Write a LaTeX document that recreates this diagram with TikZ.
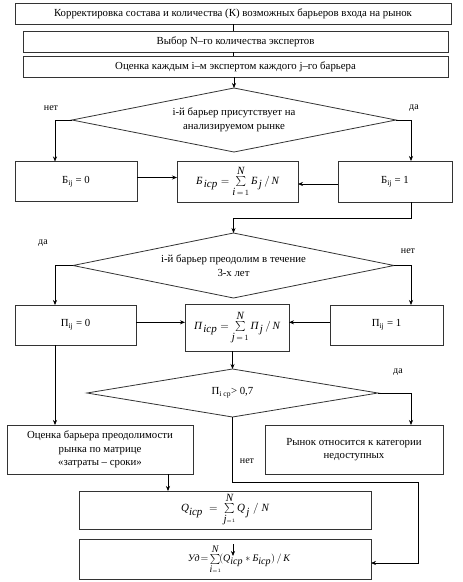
\documentclass[tikz,border=0pt]{standalone}
\usepackage{fontspec}
\setmainfont{Liberation Serif}
\usetikzlibrary{positioning,arrows.meta,shapes.geometric}
\tikzset{
  box/.style={draw=black!80,line width=0.9pt,align=center,font=\fontsize{10.8}{13.5}\selectfont,inner sep=2pt,outer sep=0pt},
  cond/.style={diamond,draw=black!80,line width=0.8pt,align=center,font=\fontsize{10.8}{13.5}\selectfont,inner sep=0pt,outer sep=0pt,aspect=5},
  lbl/.style={font=\fontsize{10}{12}\selectfont,inner sep=0pt},
  frm/.style={font=\fontsize{11}{13}\selectfont},
  arr/.style={-{Stealth[length=5pt,width=4pt]},line width=0.6pt},
  ln/.style={line width=0.6pt}
}

\begin{document}
\begin{tikzpicture}[node distance=7pt]
  \useasboundingbox (0,0) rectangle (463pt,-582pt);
  \node[box,minimum width=436pt,minimum height=21pt] (korr) at (233pt,-13.5pt) {Корректировка состава и количества (К) возможных барьеров входа на рынок};
  \node[box,minimum width=425pt,minimum height=21pt,below=7pt of korr,xshift=2.5pt] (vybor) {Выбор N–го количества экспертов};
  \node[box,minimum width=425pt,minimum height=21pt,below=4pt of vybor] (ocen) {Оценка каждым i–м экспертом каждого j–го барьера};
  \node[cond,minimum width=324pt,minimum height=64pt,below=11pt of ocen,xshift=-1.5pt] (pres) {i-й барьер присутствует на\\анализируемом рынке};
  \node[box,frm,minimum width=121pt,minimum height=41pt,below=9pt of pres,xshift=3.5pt] (bsr) {$\textit{Б}_{\,\textit{iср}} = \sum\limits_{\textit{i}\,=\,1}^{\textit{N}} \textit{Б}_{\,\textit{j}} \,/\, \textit{N}$};
  \node[box,minimum width=122pt,minimum height=40pt,left=40pt of bsr] (b0) {Б\textsubscript{ij} = 0};
  \node[box,minimum width=114pt,minimum height=41pt,right=40pt of bsr] (b1) {Б\textsubscript{ij} = 1};
  \node[cond,minimum width=321pt,minimum height=65pt,below=31pt of bsr,xshift=-4pt] (preod) {i-й барьер преодолим в течение\\3-х лет};
  \node[box,frm,minimum width=104pt,minimum height=47pt,below=6pt of preod,xshift=3.5pt] (psr) {$\textit{П}_{\,\textit{iср}} = \sum\limits_{\textit{j}\,=\,1}^{\textit{N}} \textit{П}_{\,\textit{j}} \,/\, \textit{N}$};
  \node[box,minimum width=121pt,minimum height=40pt,left=49pt of psr,yshift=2.5pt] (p0) {П\textsubscript{ij} = 0};
  \node[box,minimum width=113pt,minimum height=40pt,right=41pt of psr,yshift=2.5pt] (p1) {П\textsubscript{ij} = 1};
  \node[cond,aspect=6,minimum width=291pt,minimum height=48pt,below=18pt of psr,xshift=-4.5pt] (porog) {П\textsubscript{i ср}> 0,7};
  \node[box,minimum width=186pt,minimum height=49pt,below=8pt of porog,xshift=-132.5pt] (matr) {Оценка барьера преодолимости\\рынка по матрице\\«затраты – сроки»};
  \node[box,minimum width=178pt,minimum height=49pt,below=8pt of porog,xshift=121.5pt] (nedost) {Рынок относится к категории\\недоступных};
  \node[box,frm,minimum width=292pt,minimum height=38pt,below=17pt of matr,xshift=125pt] (qsr) {$\textit{Q}_{\scriptscriptstyle\textit{iср}} \;=\; \sum\limits_{\scriptscriptstyle\textit{j}=1}^{\scriptscriptstyle\textit{N}} \textit{Q}_{\,\scriptscriptstyle\textit{j}} \;/\; \textit{N}$};
  \node[box,font=\fontsize{10}{12}\selectfont,minimum width=292pt,minimum height=40pt,below=10pt of qsr,inner sep=1pt] (ud) {\hspace*{28pt}\raisebox{1pt}{$\textit{Уд}\!=\!\sum\limits_{\scriptscriptstyle\textit{i}=1}^{\scriptscriptstyle\textit{N}}\!(\textit{Q}_{\scriptscriptstyle\textit{iср}} \ast \textit{Б}_{\scriptscriptstyle\textit{iср}})\,/\,\textit{K}$}};
  \node[lbl] (net1) at ([xshift=-21pt,yshift=12pt]pres.west) {нет};
  \node[lbl] (da1) at ([xshift=18pt,yshift=12pt]pres.east) {да};
  \node[lbl] (da2) at ([xshift=-30pt,yshift=22pt]preod.west) {да};
  \node[lbl] (net2) at ([xshift=14pt,yshift=14pt]preod.east) {нет};
  \node[lbl] (da3) at ([xshift=20pt,yshift=21pt]porog.east) {да};
  \node[lbl] (net3) at ([xshift=14.5pt,yshift=-44pt]porog.south) {нет};
  \draw[ln] (korr.south) -- (korr.south |- vybor.north);
  \draw[ln] (korr.south |- vybor.south) -- (korr.south |- ocen.north);
  \draw[arr] (ocen.south -| pres.north) -- (pres.north);
  \draw[arr] (pres.west) -| ([xshift=-21pt]b0.north);
  \draw[arr] (pres.east) -| ([xshift=16pt]b1.north);
  \draw[arr] ([yshift=4pt]b0.east) -- ([yshift=4pt]b0.east -| bsr.west);
  \draw[arr] ([yshift=-2.5pt]b1.west) -- ([yshift=-2.5pt]b1.west -| bsr.east);
  \draw[arr] ([xshift=16pt]b1.south) -- ++(0,-16pt) -| (preod.north);
  \draw[arr] (preod.west) -| ([xshift=-20.5pt]p0.north);
  \draw[arr] (preod.east) -| ([xshift=24.5pt]p1.north);
  \draw[arr] ([yshift=2.7pt]p0.east) -- ([yshift=2.7pt]p0.east -| psr.west);
  \draw[arr] ([yshift=2.7pt]p1.west) -- ([yshift=2.7pt]p1.west -| psr.east);
  \draw[arr] (porog.north |- psr.south) -- (porog.north);
  \draw[arr] ([xshift=-20.5pt]p0.south) -- ([xshift=-20.5pt]p0.south |- matr.north);
  \draw[arr] (porog.east) -| ([xshift=57pt]nedost.north);
  \draw[arr] (porog.south) -- ++(0,-65pt) -- ++(185.5pt,0) |- ([yshift=-4pt]ud.east);
  \draw[arr] ([xshift=68pt]matr.south) -- ([xshift=68pt]matr.south |- qsr.north);
  \draw[arr] ([xshift=8pt,yshift=-5pt]ud.north) -- ++(0,-12pt);
\end{tikzpicture}
\end{document}
